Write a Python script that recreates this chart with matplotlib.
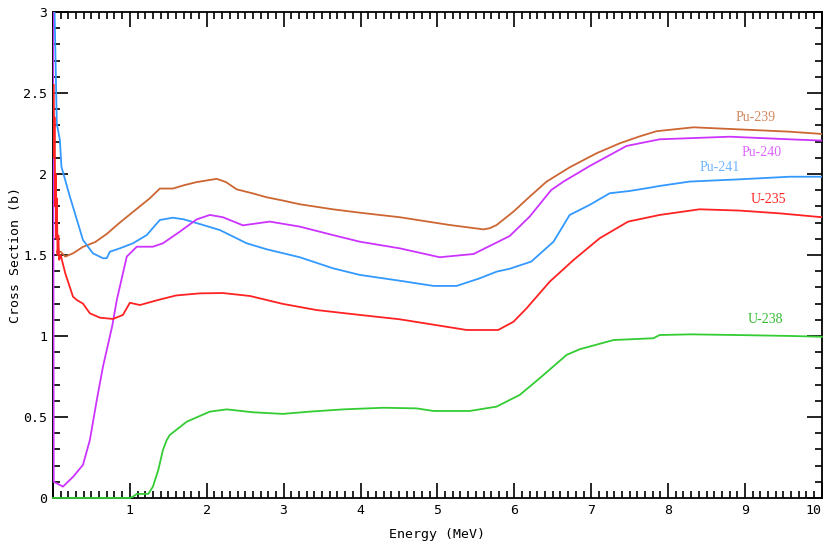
import matplotlib
matplotlib.use('Agg')
import matplotlib.pyplot as plt
from matplotlib.ticker import MultipleLocator

# energy (MeV) / cross section (b)
pu239_e = [0.05, 0.10, 0.16, 0.26, 0.39, 0.55, 0.70, 0.87, 1.00, 1.13, 1.26, 1.39, 1.56, 1.70, 1.87,
           2.00, 2.13, 2.25, 2.39, 2.60, 2.78, 3.00, 3.21, 3.64, 3.99, 4.51, 5.16, 5.60, 5.68, 5.77,
           5.99, 6.20, 6.42, 6.72, 7.07, 7.37, 7.63, 7.85, 8.33, 8.89, 9.58, 10.0]
pu239_s = [1.52, 1.52, 1.49, 1.51, 1.55, 1.58, 1.63, 1.70, 1.75, 1.80, 1.85, 1.91, 1.91, 1.93, 1.95,
           1.96, 1.97, 1.95, 1.905, 1.88, 1.856, 1.835, 1.813, 1.782, 1.761, 1.733, 1.685, 1.658, 1.665, 1.685,
           1.768, 1.860, 1.953, 2.041, 2.128, 2.189, 2.232, 2.264, 2.288, 2.276, 2.261, 2.247]

pu240_e = [0.0, 0.01, 0.13, 0.26, 0.39, 0.48, 0.57, 0.65, 0.77, 0.83, 0.96, 1.09, 1.30, 1.43, 1.65,
           1.87, 2.04, 2.21, 2.47, 2.82, 3.21, 3.64, 3.99, 4.51, 5.03, 5.47, 5.94, 6.20, 6.48, 6.64,
           6.98, 7.46, 7.89, 8.80, 9.58, 10.0]
pu240_s = [3.5, 0.10, 0.07, 0.13, 0.204, 0.358, 0.605, 0.81, 1.06, 1.222, 1.49, 1.551, 1.551, 1.572, 1.644,
           1.72, 1.747, 1.733, 1.683, 1.706, 1.675, 1.623, 1.582, 1.541, 1.486, 1.506, 1.617, 1.737, 1.901, 1.953,
           2.049, 2.173, 2.214, 2.230, 2.214, 2.206]

pu241_e = [0.0, 0.05, 0.09, 0.11, 0.22, 0.26, 0.39, 0.52, 0.65, 0.70, 0.74, 0.87, 1.04, 1.22, 1.39,
           1.56, 1.70, 1.91, 2.17, 2.52, 2.78, 3.21, 3.64, 3.99, 4.51, 4.95, 5.25, 5.55, 5.77, 5.94,
           6.22, 6.51, 6.72, 6.98, 7.24, 7.50, 7.72, 7.89, 8.28, 8.93, 9.58, 10.0]
pu241_s = [3.5, 2.31, 2.21, 2.045, 1.86, 1.798, 1.593, 1.51, 1.48, 1.48, 1.52, 1.541, 1.572, 1.623, 1.716,
           1.73, 1.72, 1.691, 1.654, 1.572, 1.535, 1.486, 1.418, 1.377, 1.341, 1.309, 1.309, 1.356, 1.397, 1.415,
           1.459, 1.582, 1.747, 1.809, 1.881, 1.895, 1.912, 1.926, 1.953, 1.967, 1.983, 1.983]

u235_e = [0.01, 0.015, 0.02, 0.03, 0.035, 0.045, 0.05, 0.06, 0.07, 0.08, 0.10, 0.16, 0.26, 0.31, 0.39,
          0.48, 0.61, 0.78, 0.91, 1.00, 1.13, 1.35, 1.60, 1.91, 2.21, 2.56, 2.99, 3.43, 3.99, 4.51,
          5.38, 5.79, 5.99, 6.16, 6.46, 6.77, 7.11, 7.48, 7.89, 8.41, 8.93, 9.45, 10.0]
u235_s = [2.55, 2.1, 2.35, 1.8, 2.0, 1.6, 1.85, 1.5, 1.62, 1.47, 1.5, 1.387, 1.243, 1.222, 1.20,
          1.14, 1.113, 1.105, 1.13, 1.205, 1.191, 1.22, 1.25, 1.263, 1.265, 1.247, 1.198, 1.160, 1.130, 1.103,
          1.037, 1.037, 1.088, 1.171, 1.335, 1.469, 1.603, 1.706, 1.747, 1.782, 1.774, 1.757, 1.733]

u238_e = [0.0, 1.0, 1.04, 1.09, 1.24, 1.30, 1.37, 1.43, 1.48, 1.52, 1.74, 2.04, 2.26, 2.60, 2.99,
          3.34, 3.78, 4.30, 4.73, 4.95, 5.42, 5.77, 6.07, 6.33, 6.68, 6.85, 7.29, 7.81, 7.89, 8.3,
          9.0, 9.6, 10.0]
u238_s = [0.0, 0.0, 0.008, 0.025, 0.025, 0.07, 0.173, 0.296, 0.358, 0.389, 0.471, 0.533, 0.547, 0.529, 0.519,
          0.533, 0.547, 0.557, 0.553, 0.537, 0.537, 0.564, 0.636, 0.739, 0.883, 0.918, 0.975, 0.986, 1.006, 1.01,
          1.005, 1.0, 0.995]

names = ['Pu-239', 'Pu-240', 'Pu-241', 'U-235', 'U-238']
label_x = [9.14, 9.22, 8.67, 9.30, 9.26]
label_y = [2.35, 2.13, 2.04, 1.84, 1.10]

c239 = '#cc6633'
c240 = '#cc33ff'
c241 = '#3399ff'
c235 = '#ff2222'
c238 = '#33cc33'
label_colors = ['#d4885e', '#dd66ff', '#6fb5ff', '#ff2222', '#33bb33']

fig = plt.figure(figsize=(8.25, 5.44), dpi=100)
ax = fig.add_axes([0.0642, 0.0846, 0.932, 0.8934])

lw = 1.3
# U-238 sits on the x axis below 1 MeV, so don't clip it
ax.plot(u238_e, u238_s, color=c238, lw=lw, zorder=3, clip_on=False)
ax.plot(pu239_e, pu239_s, color=c239, lw=lw, zorder=3)
ax.plot(pu241_e, pu241_s, color=c241, lw=lw, zorder=3)
ax.plot(pu240_e, pu240_s, color=c240, lw=lw, zorder=3)
ax.plot(u235_e, u235_s, color=c235, lw=lw, zorder=3)

for name, x, y, c in zip(names, label_x, label_y, label_colors):
    ax.text(x, y, name, color=c, fontsize=10, family='Liberation Serif',
            ha='center', va='center')

ax.set_xlim(0, 10)
ax.set_ylim(0, 3)
ax.set_xticks(range(0, 11))
ax.set_xticklabels([''] + [str(i) for i in range(1, 11)])
ax.set_yticks([0, 0.5, 1, 1.5, 2, 2.5, 3])
ax.set_yticklabels(['0', '0.5', '1', '1.5', '2', '2.5', '3'])
ax.xaxis.set_minor_locator(MultipleLocator(0.1))
ax.yaxis.set_minor_locator(MultipleLocator(0.1))
ax.tick_params(which='both', direction='in', top=True, right=True, width=1.2, color='black')
ax.tick_params(which='major', length=10.5, pad=4, labelsize=9.5)
ax.tick_params(which='minor', length=5)
for lab in ax.get_xticklabels() + ax.get_yticklabels():
    lab.set_family('DejaVu Sans Mono')
ax.get_xticklabels()[-1].set_horizontalalignment('right')

for s in ax.spines.values():
    s.set_linewidth(1.3)
    s.set_zorder(2)

ax.set_xlabel('Energy (MeV)', family='DejaVu Sans Mono', fontsize=9.5, labelpad=8)
ax.set_ylabel('Cross Section (b)', family='DejaVu Sans Mono', fontsize=9.5, labelpad=1)

fig.savefig('out.png', dpi=100)
plt.close()
